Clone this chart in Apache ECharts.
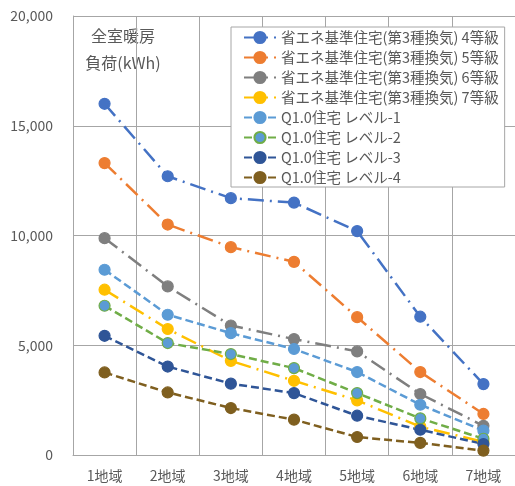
<!DOCTYPE html>
<html>
<head>
<meta charset="utf-8">
<script src="https://cdn.jsdelivr.net/npm/echarts@6/dist/echarts.min.js"></script>
<style>
  html, body { margin: 0; padding: 0; background: #ffffff; }
  #chart { width: 515px; height: 486px; }
</style>
</head>
<body>
<div id="chart"></div>
<script>
// Regions (地域) along the x axis
const regions = ['1地域', '2地域', '3地域', '4地域', '5地域', '6地域', '7地域'];

// Annual whole-house heating load (kWh)
const std4 = [16000, 12700, 11700, 11500, 10200, 6300, 3230];
const std5 = [13300, 10500, 9470, 8800, 6280, 3780, 1870];
const std6 = [9880, 7680, 5900, 5280, 4720, 2780, 1330];
const std7 = [7530, 5740, 4290, 3380, 2490, 1290, 600];
const q1Lv1 = [8440, 6390, 5550, 4830, 3780, 2290, 1110];
const q1Lv2 = [6800, 5100, 4600, 3960, 2820, 1670, 740];
const q1Lv3 = [5430, 4030, 3250, 2820, 1790, 1150, 500];
const q1Lv4 = [3760, 2850, 2140, 1610, 820, 550, 200];

const seriesNames = [
  '省エネ基準住宅(第3種換気) 4等級',
  '省エネ基準住宅(第3種換気) 5等級',
  '省エネ基準住宅(第3種換気) 6等級',
  '省エネ基準住宅(第3種換気) 7等級',
  'Q1.0住宅 レベル-1',
  'Q1.0住宅 レベル-2',
  'Q1.0住宅 レベル-3',
  'Q1.0住宅 レベル-4'
];
const seriesData = [std4, std5, std6, std7, q1Lv1, q1Lv2, q1Lv3, q1Lv4];

// Y axis ticks
const yMin = 0, yMax = 20000, yStep = 5000;

const FONT = '"Noto Sans CJK JP", "Noto Sans", sans-serif';
const GRID = '#a6a6a6';
const TEXT = '#595959';

// Per-series look: line colour, marker fill, marker border, dash pattern
const looks = [
  { line: '#4472c4', fill: '#4472c4', border: '#4472c4', dash: [16, 6, 2, 6] },
  { line: '#ed7d31', fill: '#ed7d31', border: '#ed7d31', dash: [16, 6, 2, 6] },
  { line: '#7f7f7f', fill: '#7f7f7f', border: '#7f7f7f', dash: [16, 6, 2, 6] },
  { line: '#ffc000', fill: '#ffc000', border: '#ffc000', dash: [16, 6, 2, 6] },
  { line: '#5b9bd5', fill: '#5b9bd5', border: '#5b9bd5', dash: [8, 4] },
  { line: '#70ad47', fill: '#5b9bd5', border: '#70ad47', dash: [8, 4] },
  { line: '#2f5597', fill: '#2f5597', border: '#2f5597', dash: [8, 4] },
  { line: '#7f5f1f', fill: '#7f5f1f', border: '#7f5f1f', dash: [8, 4] }
];

const series = seriesData.map((data, i) => ({
  name: seriesNames[i],
  type: 'line',
  data: data,
  symbol: 'circle',
  symbolSize: 11,
  lineStyle: { color: looks[i].line, width: 2.5, type: looks[i].dash, cap: 'butt' },
  itemStyle: { color: looks[i].fill, borderColor: looks[i].border, borderWidth: 1.2 },
  emphasis: { disabled: true },
  animation: false
}));

const chart = echarts.init(document.getElementById('chart'), null, { renderer: 'canvas' });
chart.setOption({
  backgroundColor: '#ffffff',
  animation: false,
  textStyle: { fontFamily: FONT },
  grid: { left: 73, top: 16, width: 444.5, height: 439, containLabel: false },
  xAxis: {
    type: 'category',
    data: regions,
    boundaryGap: true,
    axisLine: { show: true, lineStyle: { color: GRID, width: 1 } },
    axisTick: { show: false },
    splitLine: { show: true, interval: 0, lineStyle: { color: GRID, width: 1 } },
    axisLabel: { color: TEXT, fontSize: 14, fontFamily: FONT, margin: 14, interval: 0 }
  },
  yAxis: {
    type: 'value',
    min: yMin,
    max: yMax,
    interval: yStep,
    axisLine: { show: true, lineStyle: { color: GRID, width: 1 } },
    axisTick: { show: false },
    splitLine: { show: true, lineStyle: { color: GRID, width: 1 } },
    axisLabel: {
      color: TEXT, fontSize: 14, fontFamily: FONT, margin: 20,
      formatter: v => v.toLocaleString('en-US')
    }
  },
  legend: {
    orient: 'vertical',
    left: 231,
    top: 27,
    padding: [3, 6, 2, 12],
    itemGap: 5,
    itemWidth: 32,
    itemHeight: 14,
    backgroundColor: '#ffffff',
    borderColor: '#a6a6a6',
    borderWidth: 1,
    textStyle: { color: TEXT, fontSize: 14.5, lineHeight: 15, fontFamily: FONT },
    data: seriesNames
  },
  graphic: [
    {
      type: 'group',
      left: 78,
      top: 17,
      z: 100,
      children: [
        { type: 'rect', shape: { x: 0, y: 0, width: 90, height: 62 }, style: { fill: '#ffffff' } },
        { type: 'text', x: 45, y: 19, style: { text: '全室暖房', fill: TEXT, font: '16px ' + FONT, textAlign: 'center', textVerticalAlign: 'middle' } },
        { type: 'text', x: 45, y: 46, style: { text: '負荷(kWh)', fill: TEXT, font: '16px ' + FONT, textAlign: 'center', textVerticalAlign: 'middle' } }
      ]
    }
  ],
  series: series
});
</script>
</body>
</html>
